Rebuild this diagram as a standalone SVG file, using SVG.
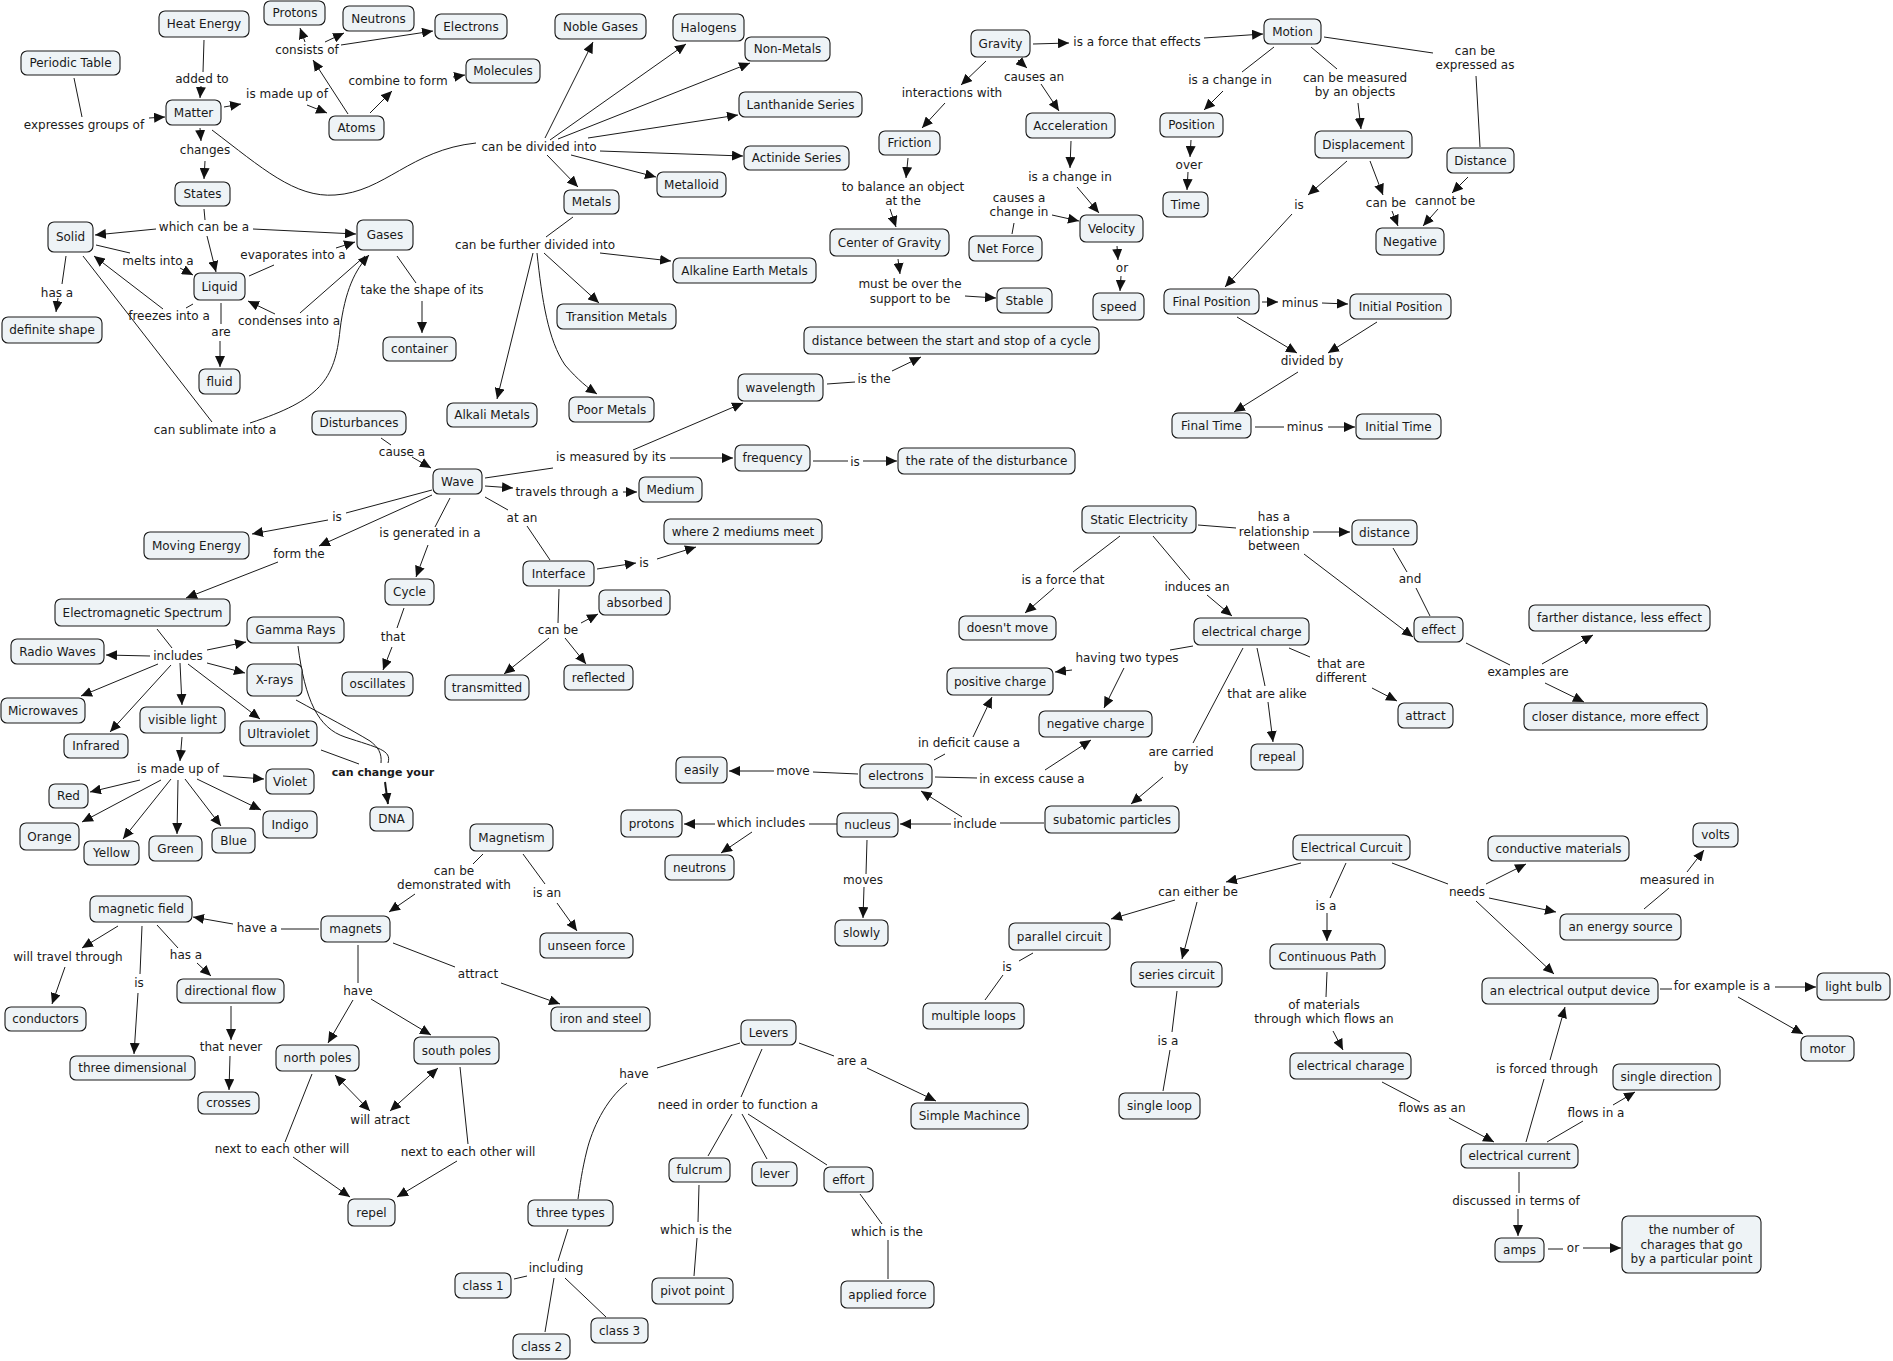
<svg xmlns="http://www.w3.org/2000/svg" width="1893" height="1361" viewBox="0 0 1893 1361">
<style>
text{font-family:"DejaVu Sans",Verdana,sans-serif;font-size:12px;fill:#1a1a1a;text-anchor:middle}
.n rect{fill:#EEF3F6;stroke:#1a1a1a;stroke-width:1.1}
#connectors line,#connectors path{stroke:#1a1a1a;stroke-width:1;fill:none}
#connectors .a{marker-end:url(#ah)}
#connectors .d{marker-end:url(#ah);marker-start:url(#ah)}
.b{font-weight:bold;font-size:11px}
</style>
<defs>
<marker id="ah" markerUnits="userSpaceOnUse" markerWidth="11" markerHeight="10" refX="11" refY="5" orient="auto-start-reverse"><path d="M0,0 L11,5 L0,10 z" fill="#111"/></marker>
</defs>
<rect width="1893" height="1361" fill="#fff"/>
<g id="connectors">
<line x1="204" y1="40" x2="203" y2="72"/>
<line class="a" x1="201" y1="86" x2="200" y2="98"/>
<line x1="74" y1="78" x2="82" y2="117"/>
<line class="a" x1="149" y1="118" x2="165" y2="117"/>
<line class="a" x1="224" y1="107" x2="241" y2="104"/>
<line class="a" x1="307" y1="105" x2="327" y2="113"/>
<line class="a" x1="348" y1="114" x2="313" y2="60"/>
<line class="a" x1="305" y1="42" x2="300" y2="28"/>
<line class="a" x1="325" y1="42" x2="344" y2="33"/>
<line class="a" x1="341" y1="45" x2="433" y2="31"/>
<line class="a" x1="370" y1="113" x2="392" y2="91"/>
<line class="a" x1="453" y1="77" x2="465" y2="75"/>
<line class="a" x1="200" y1="128" x2="201" y2="141"/>
<line class="a" x1="205" y1="161" x2="204" y2="179"/>
<path d="M212,130 C262,168 295,198 335,195 C385,192 410,150 476,143"/>
<line x1="204" y1="209" x2="205" y2="220"/>
<line class="a" x1="156" y1="229" x2="95" y2="235"/>
<line class="a" x1="253" y1="229" x2="356" y2="234"/>
<line class="a" x1="207" y1="236" x2="216" y2="272"/>
<line x1="96" y1="245" x2="130" y2="253"/>
<line class="a" x1="180" y1="268" x2="193" y2="275"/>
<line x1="249" y1="276" x2="274" y2="265"/>
<line class="a" x1="336" y1="248" x2="355" y2="242"/>
<line x1="193" y1="304" x2="186" y2="308"/>
<line class="a" x1="163" y1="309" x2="94" y2="256"/>
<line x1="365" y1="256" x2="300" y2="313"/>
<line class="a" x1="275" y1="314" x2="248" y2="301"/>
<path class="a" d="M250,423 C320,400 335,380 340,330 C345,290 355,270 369,255"/>
<line x1="83" y1="256" x2="212" y2="422"/>
<line x1="66" y1="256" x2="62" y2="284"/>
<line class="a" x1="58" y1="298" x2="56" y2="312"/>
<line x1="221" y1="303" x2="221" y2="324"/>
<line class="a" x1="220" y1="341" x2="220" y2="367"/>
<line x1="397" y1="256" x2="416" y2="283"/>
<line class="a" x1="422" y1="301" x2="422" y2="333"/>
<line x1="381" y1="438" x2="391" y2="445"/>
<line class="a" x1="545" y1="138" x2="593" y2="42"/>
<line class="a" x1="550" y1="140" x2="686" y2="44"/>
<line class="a" x1="558" y1="139" x2="750" y2="63"/>
<line class="a" x1="588" y1="138" x2="738" y2="115"/>
<line class="a" x1="600" y1="151" x2="743" y2="156"/>
<line class="a" x1="571" y1="155" x2="656" y2="177"/>
<line class="a" x1="547" y1="155" x2="578" y2="187"/>
<line x1="573" y1="217" x2="546" y2="237"/>
<line class="a" x1="600" y1="253" x2="671" y2="261"/>
<line class="a" x1="544" y1="253" x2="599" y2="303"/>
<line class="a" x1="533" y1="253" x2="497" y2="399"/>
<path class="a" d="M537,253 C542,300 548,340 565,365 C578,380 588,388 597,394"/>
<line class="a" x1="908" y1="158" x2="906" y2="178"/>
<line class="a" x1="890" y1="209" x2="896" y2="227"/>
<line class="a" x1="898" y1="259" x2="900" y2="274"/>
<line class="a" x1="965" y1="296" x2="996" y2="298"/>
<line class="a" x1="945" y1="103" x2="922" y2="128"/>
<line class="a" x1="986" y1="61" x2="961" y2="85"/>
<line x1="827" y1="384" x2="855" y2="382"/>
<line class="a" x1="892" y1="371" x2="921" y2="357"/>
<line x1="485" y1="478" x2="553" y2="468"/>
<line class="a" x1="633" y1="450" x2="743" y2="403"/>
<line class="a" x1="670" y1="458" x2="733" y2="458"/>
<line class="a" x1="1033" y1="44" x2="1069" y2="43"/>
<line class="a" x1="1204" y1="38" x2="1263" y2="34"/>
<line class="a" x1="1018" y1="60" x2="1027" y2="68"/>
<line class="a" x1="1041" y1="84" x2="1059" y2="111"/>
<line class="a" x1="1071" y1="141" x2="1070" y2="168"/>
<line class="a" x1="1077" y1="187" x2="1099" y2="213"/>
<line x1="1012" y1="234" x2="1014" y2="223"/>
<line class="a" x1="1052" y1="215" x2="1079" y2="221"/>
<line class="a" x1="1117" y1="246" x2="1118" y2="260"/>
<line class="a" x1="1121" y1="276" x2="1120" y2="291"/>
<line x1="1274" y1="47" x2="1242" y2="72"/>
<line class="a" x1="1223" y1="91" x2="1204" y2="110"/>
<line class="a" x1="1191" y1="140" x2="1190" y2="157"/>
<line class="a" x1="1188" y1="172" x2="1187" y2="190"/>
<line x1="1311" y1="47" x2="1337" y2="69"/>
<line class="a" x1="1358" y1="103" x2="1361" y2="129"/>
<line class="a" x1="1347" y1="161" x2="1308" y2="195"/>
<line class="a" x1="1292" y1="214" x2="1225" y2="287"/>
<line class="a" x1="1370" y1="161" x2="1383" y2="195"/>
<line class="a" x1="1392" y1="211" x2="1398" y2="226"/>
<line x1="1324" y1="37" x2="1433" y2="53"/>
<line x1="1476" y1="76" x2="1480" y2="147"/>
<line class="a" x1="1468" y1="177" x2="1452" y2="193"/>
<line class="a" x1="1438" y1="209" x2="1423" y2="226"/>
<line class="a" x1="1262" y1="302" x2="1278" y2="302"/>
<line class="a" x1="1322" y1="303" x2="1348" y2="304"/>
<line class="a" x1="1237" y1="317" x2="1297" y2="353"/>
<line class="a" x1="1377" y1="322" x2="1328" y2="353"/>
<line class="a" x1="1298" y1="372" x2="1234" y2="412"/>
<line x1="1255" y1="427" x2="1284" y2="427"/>
<line class="a" x1="1328" y1="427" x2="1355" y2="427"/>
<line class="a" x1="412" y1="457" x2="431" y2="468"/>
<line x1="432" y1="490" x2="346" y2="513"/>
<line class="a" x1="328" y1="520" x2="252" y2="534"/>
<line class="a" x1="432" y1="495" x2="319" y2="546"/>
<line class="a" x1="278" y1="562" x2="186" y2="598"/>
<line x1="450" y1="498" x2="435" y2="527"/>
<line class="a" x1="428" y1="545" x2="416" y2="577"/>
<line x1="404" y1="608" x2="397" y2="628"/>
<line class="a" x1="392" y1="647" x2="383" y2="670"/>
<line x1="157" y1="629" x2="172" y2="648"/>
<line class="a" x1="150" y1="656" x2="106" y2="655"/>
<line class="a" x1="207" y1="650" x2="246" y2="642"/>
<line class="a" x1="207" y1="663" x2="245" y2="673"/>
<line class="a" x1="158" y1="664" x2="81" y2="696"/>
<line class="a" x1="171" y1="665" x2="110" y2="732"/>
<line class="a" x1="180" y1="663" x2="182" y2="705"/>
<line class="a" x1="188" y1="664" x2="260" y2="719"/>
<line class="a" x1="182" y1="737" x2="180" y2="761"/>
<line class="a" x1="223" y1="776" x2="264" y2="779"/>
<line class="a" x1="140" y1="780" x2="90" y2="792"/>
<line class="a" x1="161" y1="780" x2="82" y2="822"/>
<line class="a" x1="171" y1="779" x2="123" y2="839"/>
<line class="a" x1="178" y1="780" x2="177" y2="834"/>
<line class="a" x1="185" y1="779" x2="221" y2="826"/>
<line class="a" x1="197" y1="779" x2="261" y2="810"/>
<line x1="321" y1="750" x2="359" y2="764"/>
<path d="M298,646 C305,700 318,728 345,737 C378,748 392,750 388,763"/>
<path d="M296,700 C325,716 352,730 370,741 C378,747 382,753 381,763"/>
<line class="a" x1="385" y1="782" x2="388" y2="804" style="stroke-width:2"/>
<line x1="483" y1="854" x2="473" y2="864"/>
<line class="a" x1="415" y1="894" x2="389" y2="912"/>
<line class="a" x1="485" y1="486" x2="513" y2="488"/>
<line class="a" x1="623" y1="492" x2="637" y2="492"/>
<line x1="485" y1="497" x2="508" y2="510"/>
<line x1="527" y1="526" x2="550" y2="560"/>
<line class="a" x1="597" y1="569" x2="636" y2="563"/>
<line class="a" x1="657" y1="559" x2="696" y2="547"/>
<line x1="559" y1="589" x2="558" y2="623"/>
<line class="a" x1="581" y1="623" x2="598" y2="614"/>
<line class="a" x1="549" y1="638" x2="504" y2="674"/>
<line class="a" x1="565" y1="638" x2="586" y2="664"/>
<line x1="813" y1="461" x2="848" y2="461"/>
<line class="a" x1="863" y1="461" x2="897" y2="461"/>
<line x1="858" y1="774" x2="813" y2="772"/>
<line class="a" x1="774" y1="771" x2="729" y2="771"/>
<line x1="837" y1="824" x2="809" y2="824"/>
<line class="a" x1="715" y1="824" x2="684" y2="824"/>
<line class="a" x1="752" y1="832" x2="721" y2="853"/>
<line x1="867" y1="840" x2="866" y2="874"/>
<line class="a" x1="864" y1="887" x2="863" y2="918"/>
<line x1="523" y1="854" x2="545" y2="884"/>
<line class="a" x1="557" y1="903" x2="577" y2="931"/>
<line class="a" x1="973" y1="737" x2="992" y2="697"/>
<line x1="934" y1="760" x2="945" y2="754"/>
<line x1="935" y1="777" x2="977" y2="778"/>
<line class="a" x1="1045" y1="770" x2="1091" y2="740"/>
<line x1="1044" y1="823" x2="1000" y2="823"/>
<line class="a" x1="951" y1="824" x2="900" y2="824"/>
<line class="a" x1="962" y1="817" x2="921" y2="791"/>
<line x1="1198" y1="525" x2="1236" y2="528"/>
<line class="a" x1="1313" y1="532" x2="1350" y2="532"/>
<line class="a" x1="1304" y1="554" x2="1413" y2="637"/>
<line x1="1393" y1="548" x2="1407" y2="572"/>
<line x1="1416" y1="588" x2="1430" y2="616"/>
<line x1="1120" y1="536" x2="1073" y2="572"/>
<line class="a" x1="1054" y1="588" x2="1025" y2="613"/>
<line x1="1153" y1="536" x2="1190" y2="580"/>
<line class="a" x1="1207" y1="595" x2="1232" y2="616"/>
<line x1="1193" y1="646" x2="1170" y2="650"/>
<line class="a" x1="1072" y1="670" x2="1055" y2="672"/>
<line class="a" x1="1124" y1="668" x2="1104" y2="708"/>
<line x1="1243" y1="648" x2="1193" y2="743"/>
<line class="a" x1="1163" y1="777" x2="1131" y2="804"/>
<line x1="1257" y1="648" x2="1265" y2="686"/>
<line class="a" x1="1268" y1="702" x2="1273" y2="742"/>
<line x1="1289" y1="648" x2="1310" y2="657"/>
<line class="a" x1="1372" y1="688" x2="1397" y2="701"/>
<line class="a" x1="1301" y1="863" x2="1226" y2="882"/>
<line x1="1346" y1="863" x2="1330" y2="898"/>
<line class="a" x1="1327" y1="913" x2="1327" y2="941"/>
<line x1="1392" y1="863" x2="1448" y2="884"/>
<line class="a" x1="1486" y1="884" x2="1526" y2="864"/>
<line class="a" x1="1489" y1="898" x2="1556" y2="912"/>
<line class="a" x1="1476" y1="901" x2="1554" y2="974"/>
<line x1="1644" y1="909" x2="1669" y2="888"/>
<line class="a" x1="1687" y1="872" x2="1704" y2="850"/>
<line class="a" x1="1175" y1="900" x2="1111" y2="919"/>
<line class="a" x1="1197" y1="902" x2="1182" y2="959"/>
<line x1="1033" y1="953" x2="1019" y2="961"/>
<line x1="1003" y1="975" x2="985" y2="1000"/>
<line x1="1177" y1="991" x2="1172" y2="1032"/>
<line x1="1170" y1="1050" x2="1163" y2="1091"/>
<line x1="1327" y1="972" x2="1326" y2="997"/>
<line class="a" x1="1333" y1="1031" x2="1343" y2="1050"/>
<line x1="1382" y1="1082" x2="1420" y2="1102"/>
<line class="a" x1="1449" y1="1118" x2="1494" y2="1142"/>
<line x1="1526" y1="1142" x2="1544" y2="1079"/>
<line class="a" x1="1550" y1="1060" x2="1565" y2="1007"/>
<line x1="1547" y1="1142" x2="1583" y2="1121"/>
<line class="a" x1="1613" y1="1105" x2="1635" y2="1092"/>
<line x1="1660" y1="989" x2="1672" y2="989"/>
<line class="a" x1="1775" y1="987" x2="1816" y2="987"/>
<line class="a" x1="1738" y1="997" x2="1803" y2="1034"/>
<line x1="1519" y1="1172" x2="1519" y2="1193"/>
<line class="a" x1="1518" y1="1209" x2="1518" y2="1236"/>
<line x1="1548" y1="1249" x2="1563" y2="1249"/>
<line class="a" x1="1583" y1="1248" x2="1621" y2="1248"/>
<line x1="1466" y1="643" x2="1510" y2="665"/>
<line class="a" x1="1542" y1="664" x2="1593" y2="635"/>
<line class="a" x1="1545" y1="683" x2="1584" y2="702"/>
<line x1="319" y1="929" x2="281" y2="929"/>
<line class="a" x1="233" y1="924" x2="193" y2="917"/>
<line class="a" x1="118" y1="926" x2="82" y2="948"/>
<line class="a" x1="65" y1="967" x2="52" y2="1004"/>
<line x1="142" y1="926" x2="140" y2="974"/>
<line class="a" x1="138" y1="993" x2="134" y2="1054"/>
<line x1="157" y1="925" x2="178" y2="948"/>
<line class="a" x1="197" y1="963" x2="211" y2="976"/>
<line class="a" x1="231" y1="1006" x2="231" y2="1040"/>
<line class="a" x1="230" y1="1056" x2="229" y2="1090"/>
<line x1="358" y1="945" x2="358" y2="983"/>
<line class="a" x1="353" y1="1000" x2="328" y2="1043"/>
<line class="a" x1="371" y1="999" x2="431" y2="1035"/>
<line x1="393" y1="943" x2="455" y2="967"/>
<line class="a" x1="501" y1="983" x2="560" y2="1004"/>
<line class="d" x1="335" y1="1075" x2="370" y2="1111"/>
<line class="d" x1="438" y1="1068" x2="390" y2="1111"/>
<line x1="312" y1="1074" x2="285" y2="1142"/>
<line class="a" x1="293" y1="1157" x2="350" y2="1197"/>
<line x1="460" y1="1067" x2="468" y2="1144"/>
<line class="a" x1="457" y1="1161" x2="397" y2="1197"/>
<line x1="740" y1="1043" x2="657" y2="1068"/>
<path d="M627,1083 C605,1100 592,1130 587,1150 C582,1170 580,1185 578,1199"/>
<line x1="762" y1="1049" x2="741" y2="1097"/>
<line x1="732" y1="1114" x2="708" y2="1156"/>
<line x1="742" y1="1114" x2="767" y2="1159"/>
<line x1="748" y1="1114" x2="827" y2="1165"/>
<line x1="799" y1="1043" x2="834" y2="1056"/>
<line class="a" x1="867" y1="1068" x2="936" y2="1101"/>
<line x1="699" y1="1185" x2="698" y2="1222"/>
<line x1="697" y1="1238" x2="694" y2="1276"/>
<line x1="860" y1="1194" x2="882" y2="1224"/>
<line x1="888" y1="1240" x2="888" y2="1279"/>
<line x1="568" y1="1229" x2="558" y2="1261"/>
<line x1="527" y1="1276" x2="514" y2="1279"/>
<line x1="554" y1="1278" x2="545" y2="1332"/>
<line x1="565" y1="1278" x2="606" y2="1317"/>
</g>
<g id="linking-phrases">
<text x="202" y="83">added to</text>
<text x="307" y="54">consists of</text>
<text x="287" y="98">is made up of</text>
<text x="398" y="85">combine to form</text>
<text x="84" y="129">expresses groups of</text>
<text x="205" y="154">changes</text>
<text x="204" y="231">which can be a</text>
<text x="158" y="265">melts into a</text>
<text x="293" y="259">evaporates into a</text>
<text x="57" y="297">has a</text>
<text x="169" y="320">freezes into a</text>
<text x="289" y="325">condenses into a</text>
<text x="221" y="336">are</text>
<text x="422" y="294">take the shape of its</text>
<text x="215" y="434">can sublimate into a</text>
<text x="402" y="456">cause a</text>
<text x="539" y="151">can be divided into</text>
<text x="535" y="249">can be further divided into</text>
<text x="952" y="97">interactions with</text>
<text x="903" y="191">to balance an object</text>
<text x="903" y="205">at the</text>
<text x="910" y="288">must be over the</text>
<text x="910" y="303">support to be</text>
<text x="874" y="383">is the</text>
<text x="611" y="461">is measured by its</text>
<text x="1137" y="46">is a force that effects</text>
<text x="1034" y="81">causes an</text>
<text x="1230" y="84">is a change in</text>
<text x="1355" y="82">can be measured</text>
<text x="1355" y="96">by an objects</text>
<text x="1070" y="181">is a change in</text>
<text x="1189" y="169">over</text>
<text x="1019" y="202">causes a</text>
<text x="1019" y="216">change in</text>
<text x="1299" y="209">is</text>
<text x="1386" y="207">can be</text>
<text x="1445" y="205">cannot be</text>
<text x="1122" y="272">or</text>
<text x="1300" y="307">minus</text>
<text x="1312" y="365">divided by</text>
<text x="1305" y="431">minus</text>
<text x="1475" y="55">can be</text>
<text x="1475" y="69">expressed as</text>
<text x="337" y="521">is</text>
<text x="299" y="558">form the</text>
<text x="430" y="537">is generated in a</text>
<text x="393" y="641">that</text>
<text x="178" y="660">includes</text>
<text x="178" y="773">is made up of</text>
<text class="b" x="383" y="776">can change your</text>
<text x="454" y="875">can be</text>
<text x="454" y="889">demonstrated with</text>
<text x="567" y="496">travels through a</text>
<text x="522" y="522">at an</text>
<text x="644" y="567">is</text>
<text x="558" y="634">can be</text>
<text x="855" y="466">is</text>
<text x="793" y="775">move</text>
<text x="969" y="747">in deficit cause a</text>
<text x="761" y="827">which includes</text>
<text x="863" y="884">moves</text>
<text x="547" y="897">is an</text>
<text x="1274" y="521">has a</text>
<text x="1274" y="536">relationship</text>
<text x="1274" y="550">between</text>
<text x="1063" y="584">is a force that</text>
<text x="1197" y="591">induces an</text>
<text x="1410" y="583">and</text>
<text x="1127" y="662">having two types</text>
<text x="1341" y="668">that are</text>
<text x="1341" y="682">different</text>
<text x="1267" y="698">that are alike</text>
<text x="1032" y="783">in excess cause a</text>
<text x="1181" y="756">are carried</text>
<text x="1181" y="771">by</text>
<text x="975" y="828">include</text>
<text x="1198" y="896">can either be</text>
<text x="1326" y="910">is a</text>
<text x="1528" y="676">examples are</text>
<text x="1467" y="896">needs</text>
<text x="1677" y="884">measured in</text>
<text x="257" y="932">have a</text>
<text x="68" y="961">will travel through</text>
<text x="186" y="959">has a</text>
<text x="139" y="987">is</text>
<text x="358" y="995">have</text>
<text x="478" y="978">attract</text>
<text x="231" y="1051">that never</text>
<text x="380" y="1124">will atract</text>
<text x="282" y="1153">next to each other will</text>
<text x="468" y="1156">next to each other will</text>
<text x="634" y="1078">have</text>
<text x="738" y="1109">need in order to function a</text>
<text x="852" y="1065">are a</text>
<text x="696" y="1234">which is the</text>
<text x="887" y="1236">which is the</text>
<text x="556" y="1272">including</text>
<text x="1007" y="971">is</text>
<text x="1168" y="1045">is a</text>
<text x="1324" y="1009">of materials</text>
<text x="1324" y="1023">through which flows an</text>
<text x="1432" y="1112">flows as an</text>
<text x="1722" y="990">for example is a</text>
<text x="1547" y="1073">is forced through</text>
<text x="1596" y="1117">flows in a</text>
<text x="1516" y="1205">discussed in terms of</text>
<text x="1573" y="1252">or</text>
</g>
<g id="nodes">
<g id="heat-energy" class="n"><rect x="159" y="11" width="90" height="26" rx="6"/><text x="204" y="28">Heat Energy</text></g>
<g id="protons-top" class="n"><rect x="264" y="1" width="61" height="24" rx="6"/><text x="295" y="17">Protons</text></g>
<g id="neutrons-top" class="n"><rect x="343" y="6" width="71" height="25" rx="6"/><text x="378.5" y="22.5">Neutrons</text></g>
<g id="electrons-top" class="n"><rect x="435" y="14" width="72" height="25" rx="6"/><text x="471" y="30.5">Electrons</text></g>
<g id="periodic-table" class="n"><rect x="21" y="51" width="99" height="24" rx="6"/><text x="70.5" y="67">Periodic Table</text></g>
<g id="matter" class="n"><rect x="166" y="100" width="55" height="25" rx="6"/><text x="193.5" y="116.5">Matter</text></g>
<g id="atoms" class="n"><rect x="329" y="116" width="55" height="24" rx="6"/><text x="356.5" y="132">Atoms</text></g>
<g id="molecules" class="n"><rect x="466" y="59" width="74" height="24" rx="6"/><text x="503" y="75">Molecules</text></g>
<g id="states" class="n"><rect x="175" y="182" width="55" height="24" rx="6"/><text x="202.5" y="198">States</text></g>
<g id="solid" class="n"><rect x="48" y="222" width="45" height="30" rx="6"/><text x="70.5" y="241">Solid</text></g>
<g id="gases" class="n"><rect x="357" y="220" width="56" height="30" rx="6"/><text x="385" y="239">Gases</text></g>
<g id="liquid" class="n"><rect x="194" y="273" width="51" height="27" rx="6"/><text x="219.5" y="290.5">Liquid</text></g>
<g id="definite-shape" class="n"><rect x="2" y="317" width="100" height="26" rx="6"/><text x="52" y="334">definite shape</text></g>
<g id="fluid" class="n"><rect x="199" y="369" width="41" height="25" rx="6"/><text x="219.5" y="385.5">fluid</text></g>
<g id="container" class="n"><rect x="383" y="337" width="73" height="24" rx="6"/><text x="419.5" y="353">container</text></g>
<g id="disturbances" class="n"><rect x="312" y="411" width="94" height="24" rx="6"/><text x="359" y="427">Disturbances</text></g>
<g id="alkali-metals" class="n"><rect x="447" y="403" width="90" height="24" rx="6"/><text x="492" y="419">Alkali Metals</text></g>
<g id="noble-gases" class="n"><rect x="555" y="14" width="91" height="25" rx="6"/><text x="600.5" y="30.5">Noble Gases</text></g>
<g id="halogens" class="n"><rect x="673" y="14" width="71" height="27" rx="6"/><text x="708.5" y="31.5">Halogens</text></g>
<g id="non-metals" class="n"><rect x="745" y="37" width="85" height="24" rx="6"/><text x="787.5" y="53">Non-Metals</text></g>
<g id="lanthanide" class="n"><rect x="739" y="92" width="123" height="25" rx="6"/><text x="800.5" y="108.5">Lanthanide Series</text></g>
<g id="actinide" class="n"><rect x="744" y="146" width="105" height="24" rx="6"/><text x="796.5" y="162">Actinide Series</text></g>
<g id="metalloid" class="n"><rect x="657" y="172" width="69" height="25" rx="6"/><text x="691.5" y="188.5">Metalloid</text></g>
<g id="metals" class="n"><rect x="564" y="190" width="55" height="24" rx="6"/><text x="591.5" y="206">Metals</text></g>
<g id="friction" class="n"><rect x="879" y="131" width="61" height="24" rx="6"/><text x="909.5" y="147">Friction</text></g>
<g id="center-of-gravity" class="n"><rect x="830" y="229" width="119" height="27" rx="6"/><text x="889.5" y="246.5">Center of Gravity</text></g>
<g id="alkaline-earth" class="n"><rect x="673" y="258" width="143" height="25" rx="6"/><text x="744.5" y="274.5">Alkaline Earth Metals</text></g>
<g id="transition-metals" class="n"><rect x="557" y="304" width="119" height="25" rx="6"/><text x="616.5" y="320.5">Transition Metals</text></g>
<g id="poor-metals" class="n"><rect x="569" y="397" width="85" height="25" rx="6"/><text x="611.5" y="413.5">Poor Metals</text></g>
<g id="distance-cycle" class="n"><rect x="804" y="327" width="295" height="27" rx="6"/><text x="951.5" y="344.5">distance between the start and stop of a cycle</text></g>
<g id="wavelength" class="n"><rect x="738" y="374" width="85" height="27" rx="6"/><text x="780.5" y="391.5">wavelength</text></g>
<g id="gravity" class="n"><rect x="971" y="30" width="59" height="27" rx="6"/><text x="1000.5" y="47.5">Gravity</text></g>
<g id="motion" class="n"><rect x="1264" y="19" width="57" height="25" rx="6"/><text x="1292.5" y="35.5">Motion</text></g>
<g id="acceleration" class="n"><rect x="1026" y="113" width="89" height="25" rx="6"/><text x="1070.5" y="129.5">Acceleration</text></g>
<g id="position" class="n"><rect x="1160" y="113" width="63" height="24" rx="6"/><text x="1191.5" y="129">Position</text></g>
<g id="displacement" class="n"><rect x="1315" y="131" width="97" height="27" rx="6"/><text x="1363.5" y="148.5">Displacement</text></g>
<g id="time" class="n"><rect x="1163" y="192" width="45" height="25" rx="6"/><text x="1185.5" y="208.5">Time</text></g>
<g id="velocity" class="n"><rect x="1080" y="215" width="63" height="27" rx="6"/><text x="1111.5" y="232.5">Velocity</text></g>
<g id="net-force" class="n"><rect x="969" y="236" width="73" height="25" rx="6"/><text x="1005.5" y="252.5">Net Force</text></g>
<g id="negative" class="n"><rect x="1376" y="228" width="68" height="27" rx="6"/><text x="1410" y="245.5">Negative</text></g>
<g id="stable" class="n"><rect x="997" y="288" width="55" height="25" rx="6"/><text x="1024.5" y="304.5">Stable</text></g>
<g id="speed" class="n"><rect x="1093" y="293" width="51" height="27" rx="6"/><text x="1118.5" y="310.5">speed</text></g>
<g id="final-position" class="n"><rect x="1164" y="289" width="95" height="25" rx="6"/><text x="1211.5" y="305.5">Final Position</text></g>
<g id="initial-position" class="n"><rect x="1350" y="294" width="101" height="25" rx="6"/><text x="1400.5" y="310.5">Initial Position</text></g>
<g id="final-time" class="n"><rect x="1172" y="413" width="79" height="25" rx="6"/><text x="1211.5" y="429.5">Final Time</text></g>
<g id="initial-time" class="n"><rect x="1356" y="414" width="85" height="25" rx="6"/><text x="1398.5" y="430.5">Initial Time</text></g>
<g id="distance-motion" class="n"><rect x="1447" y="148" width="67" height="25" rx="6"/><text x="1480.5" y="164.5">Distance</text></g>
<g id="wave" class="n"><rect x="433" y="469" width="49" height="25" rx="6"/><text x="457.5" y="485.5">Wave</text></g>
<g id="moving-energy" class="n"><rect x="144" y="532" width="105" height="27" rx="6"/><text x="196.5" y="549.5">Moving Energy</text></g>
<g id="cycle" class="n"><rect x="385" y="579" width="49" height="26" rx="6"/><text x="409.5" y="596">Cycle</text></g>
<g id="em-spectrum" class="n"><rect x="55" y="599" width="175" height="27" rx="6"/><text x="142.5" y="616.5">Electromagnetic Spectrum</text></g>
<g id="gamma-rays" class="n"><rect x="247" y="617" width="97" height="26" rx="6"/><text x="295.5" y="634">Gamma Rays</text></g>
<g id="radio-waves" class="n"><rect x="11" y="639" width="93" height="25" rx="6"/><text x="57.5" y="655.5">Radio Waves</text></g>
<g id="x-rays" class="n"><rect x="247" y="664" width="55" height="32" rx="6"/><text x="274.5" y="684">X-rays</text></g>
<g id="oscillates" class="n"><rect x="342" y="672" width="71" height="24" rx="6"/><text x="377.5" y="688">oscillates</text></g>
<g id="microwaves" class="n"><rect x="1" y="698" width="84" height="25" rx="6"/><text x="43" y="714.5">Microwaves</text></g>
<g id="visible-light" class="n"><rect x="140" y="707" width="85" height="26" rx="6"/><text x="182.5" y="724">visible light</text></g>
<g id="ultraviolet" class="n"><rect x="240" y="721" width="77" height="25" rx="6"/><text x="278.5" y="737.5">Ultraviolet</text></g>
<g id="infrared" class="n"><rect x="64" y="734" width="64" height="24" rx="6"/><text x="96" y="750">Infrared</text></g>
<g id="violet" class="n"><rect x="266" y="769" width="48" height="25" rx="6"/><text x="290" y="785.5">Violet</text></g>
<g id="red" class="n"><rect x="49" y="784" width="39" height="24" rx="6"/><text x="68.5" y="800">Red</text></g>
<g id="indigo" class="n"><rect x="263" y="811" width="54" height="27" rx="6"/><text x="290" y="828.5">Indigo</text></g>
<g id="dna" class="n"><rect x="370" y="807" width="43" height="24" rx="6"/><text x="391.5" y="823">DNA</text></g>
<g id="orange" class="n"><rect x="20" y="823" width="59" height="27" rx="6"/><text x="49.5" y="840.5">Orange</text></g>
<g id="blue" class="n"><rect x="212" y="828" width="43" height="25" rx="6"/><text x="233.5" y="844.5">Blue</text></g>
<g id="green" class="n"><rect x="149" y="836" width="53" height="25" rx="6"/><text x="175.5" y="852.5">Green</text></g>
<g id="yellow" class="n"><rect x="84" y="841" width="55" height="24" rx="6"/><text x="111.5" y="857">Yellow</text></g>
<g id="magnetic-field" class="n"><rect x="90" y="896" width="102" height="26" rx="6"/><text x="141" y="913">magnetic field</text></g>
<g id="frequency" class="n"><rect x="735" y="445" width="75" height="26" rx="6"/><text x="772.5" y="462">frequency</text></g>
<g id="rate-disturbance" class="n"><rect x="898" y="448" width="177" height="26" rx="6"/><text x="986.5" y="465">the rate of the disturbance</text></g>
<g id="medium" class="n"><rect x="639" y="477" width="63" height="25" rx="6"/><text x="670.5" y="493.5">Medium</text></g>
<g id="mediums-meet" class="n"><rect x="664" y="519" width="158" height="25" rx="6"/><text x="743" y="535.5">where 2 mediums meet</text></g>
<g id="interface" class="n"><rect x="523" y="561" width="71" height="25" rx="6"/><text x="558.5" y="577.5">Interface</text></g>
<g id="absorbed" class="n"><rect x="599" y="590" width="71" height="25" rx="6"/><text x="634.5" y="606.5">absorbed</text></g>
<g id="transmitted" class="n"><rect x="445" y="675" width="84" height="25" rx="6"/><text x="487" y="691.5">transmitted</text></g>
<g id="reflected" class="n"><rect x="564" y="665" width="69" height="25" rx="6"/><text x="598.5" y="681.5">reflected</text></g>
<g id="easily" class="n"><rect x="676" y="757" width="51" height="26" rx="6"/><text x="701.5" y="774">easily</text></g>
<g id="electrons" class="n"><rect x="860" y="764" width="72" height="24" rx="6"/><text x="896" y="780">electrons</text></g>
<g id="protons" class="n"><rect x="621" y="810" width="61" height="27" rx="6"/><text x="651.5" y="827.5">protons</text></g>
<g id="nucleus" class="n"><rect x="837" y="813" width="61" height="24" rx="6"/><text x="867.5" y="829">nucleus</text></g>
<g id="neutrons" class="n"><rect x="665" y="855" width="69" height="25" rx="6"/><text x="699.5" y="871.5">neutrons</text></g>
<g id="magnetism" class="n"><rect x="470" y="824" width="83" height="27" rx="6"/><text x="511.5" y="841.5">Magnetism</text></g>
<g id="static-electricity" class="n"><rect x="1082" y="506" width="114" height="27" rx="6"/><text x="1139" y="523.5">Static Electricity</text></g>
<g id="distance" class="n"><rect x="1352" y="520" width="65" height="25" rx="6"/><text x="1384.5" y="536.5">distance</text></g>
<g id="doesnt-move" class="n"><rect x="959" y="616" width="97" height="24" rx="6"/><text x="1007.5" y="632">doesn't move</text></g>
<g id="electrical-charge" class="n"><rect x="1194" y="618" width="115" height="27" rx="6"/><text x="1251.5" y="635.5">electrical charge</text></g>
<g id="effect" class="n"><rect x="1414" y="617" width="49" height="25" rx="6"/><text x="1438.5" y="633.5">effect</text></g>
<g id="positive-charge" class="n"><rect x="947" y="668" width="106" height="27" rx="6"/><text x="1000" y="685.5">positive charge</text></g>
<g id="negative-charge" class="n"><rect x="1039" y="711" width="113" height="26" rx="6"/><text x="1095.5" y="728">negative charge</text></g>
<g id="attract" class="n"><rect x="1398" y="703" width="55" height="25" rx="6"/><text x="1425.5" y="719.5">attract</text></g>
<g id="repeal" class="n"><rect x="1251" y="744" width="52" height="26" rx="6"/><text x="1277" y="761">repeal</text></g>
<g id="subatomic" class="n"><rect x="1045" y="806" width="134" height="27" rx="6"/><text x="1112" y="823.5">subatomic particles</text></g>
<g id="electrical-curcuit" class="n"><rect x="1293" y="835" width="117" height="25" rx="6"/><text x="1351.5" y="851.5">Electrical Curcuit</text></g>
<g id="farther" class="n"><rect x="1529" y="605" width="181" height="26" rx="6"/><text x="1619.5" y="622">farther distance, less effect</text></g>
<g id="closer" class="n"><rect x="1524" y="703" width="183" height="27" rx="6"/><text x="1615.5" y="720.5">closer distance, more effect</text></g>
<g id="conductive" class="n"><rect x="1488" y="836" width="141" height="25" rx="6"/><text x="1558.5" y="852.5">conductive materials</text></g>
<g id="volts" class="n"><rect x="1693" y="823" width="45" height="24" rx="6"/><text x="1715.5" y="839">volts</text></g>
<g id="magnets" class="n"><rect x="321" y="916" width="69" height="26" rx="6"/><text x="355.5" y="933">magnets</text></g>
<g id="directional-flow" class="n"><rect x="177" y="979" width="107" height="24" rx="6"/><text x="230.5" y="995">directional flow</text></g>
<g id="conductors" class="n"><rect x="5" y="1007" width="81" height="24" rx="6"/><text x="45.5" y="1023">conductors</text></g>
<g id="three-dimensional" class="n"><rect x="70" y="1056" width="125" height="24" rx="6"/><text x="132.5" y="1072">three dimensional</text></g>
<g id="north-poles" class="n"><rect x="276" y="1045" width="83" height="26" rx="6"/><text x="317.5" y="1062">north poles</text></g>
<g id="south-poles" class="n"><rect x="414" y="1037" width="85" height="27" rx="6"/><text x="456.5" y="1054.5">south poles</text></g>
<g id="crosses" class="n"><rect x="198" y="1092" width="61" height="22" rx="6"/><text x="228.5" y="1107">crosses</text></g>
<g id="repel" class="n"><rect x="348" y="1199" width="47" height="27" rx="6"/><text x="371.5" y="1216.5">repel</text></g>
<g id="class-1" class="n"><rect x="455" y="1273" width="56" height="25" rx="6"/><text x="483" y="1289.5">class 1</text></g>
<g id="unseen-force" class="n"><rect x="540" y="933" width="93" height="25" rx="6"/><text x="586.5" y="949.5">unseen force</text></g>
<g id="slowly" class="n"><rect x="835" y="920" width="53" height="26" rx="6"/><text x="861.5" y="937">slowly</text></g>
<g id="iron-steel" class="n"><rect x="551" y="1007" width="99" height="24" rx="6"/><text x="600.5" y="1023">iron and steel</text></g>
<g id="levers" class="n"><rect x="741" y="1020" width="55" height="25" rx="6"/><text x="768.5" y="1036.5">Levers</text></g>
<g id="simple-machince" class="n"><rect x="911" y="1103" width="117" height="26" rx="6"/><text x="969.5" y="1120">Simple Machince</text></g>
<g id="multiple-loops" class="n"><rect x="923" y="1003" width="101" height="26" rx="6"/><text x="973.5" y="1020">multiple loops</text></g>
<g id="three-types" class="n"><rect x="528" y="1200" width="85" height="26" rx="6"/><text x="570.5" y="1217">three types</text></g>
<g id="fulcrum" class="n"><rect x="669" y="1158" width="61" height="24" rx="6"/><text x="699.5" y="1174">fulcrum</text></g>
<g id="lever" class="n"><rect x="752" y="1162" width="45" height="24" rx="6"/><text x="774.5" y="1178">lever</text></g>
<g id="effort" class="n"><rect x="824" y="1167" width="49" height="25" rx="6"/><text x="848.5" y="1183.5">effort</text></g>
<g id="pivot-point" class="n"><rect x="652" y="1278" width="81" height="26" rx="6"/><text x="692.5" y="1295">pivot point</text></g>
<g id="applied-force" class="n"><rect x="841" y="1281" width="93" height="27" rx="6"/><text x="887.5" y="1298.5">applied force</text></g>
<g id="class-3" class="n"><rect x="591" y="1318" width="57" height="25" rx="6"/><text x="619.5" y="1334.5">class 3</text></g>
<g id="class-2" class="n"><rect x="513" y="1334" width="57" height="25" rx="6"/><text x="541.5" y="1350.5">class 2</text></g>
<g id="parallel-circuit" class="n"><rect x="1009" y="923" width="101" height="27" rx="6"/><text x="1059.5" y="940.5">parallel circuit</text></g>
<g id="series-circuit" class="n"><rect x="1131" y="962" width="91" height="25" rx="6"/><text x="1176.5" y="978.5">series circuit</text></g>
<g id="continuous-path" class="n"><rect x="1270" y="944" width="115" height="25" rx="6"/><text x="1327.5" y="960.5">Continuous Path</text></g>
<g id="electrical-charage" class="n"><rect x="1290" y="1053" width="121" height="26" rx="6"/><text x="1350.5" y="1070">electrical charage</text></g>
<g id="single-loop" class="n"><rect x="1119" y="1093" width="81" height="26" rx="6"/><text x="1159.5" y="1110">single loop</text></g>
<g id="energy-source" class="n"><rect x="1560" y="914" width="121" height="26" rx="6"/><text x="1620.5" y="931">an energy source</text></g>
<g id="output-device" class="n"><rect x="1482" y="978" width="176" height="26" rx="6"/><text x="1570" y="995">an electrical output device</text></g>
<g id="light-bulb" class="n"><rect x="1817" y="973" width="73" height="27" rx="6"/><text x="1853.5" y="990.5">light bulb</text></g>
<g id="motor" class="n"><rect x="1801" y="1036" width="53" height="25" rx="6"/><text x="1827.5" y="1052.5">motor</text></g>
<g id="single-direction" class="n"><rect x="1613" y="1064" width="107" height="26" rx="6"/><text x="1666.5" y="1081">single direction</text></g>
<g id="electrical-current" class="n"><rect x="1461" y="1144" width="117" height="24" rx="6"/><text x="1519.5" y="1160">electrical current</text></g>
<g id="amps" class="n"><rect x="1495" y="1238" width="49" height="24" rx="6"/><text x="1519.5" y="1254">amps</text></g>
<g id="number-of-charages" class="n"><rect x="1622" y="1216" width="139" height="57" rx="6"/><text x="1691.5" y="1234">the number of</text><text x="1691.5" y="1248.5">charages that go</text><text x="1691.5" y="1263">by a particular point</text></g>
</g>
</svg>
